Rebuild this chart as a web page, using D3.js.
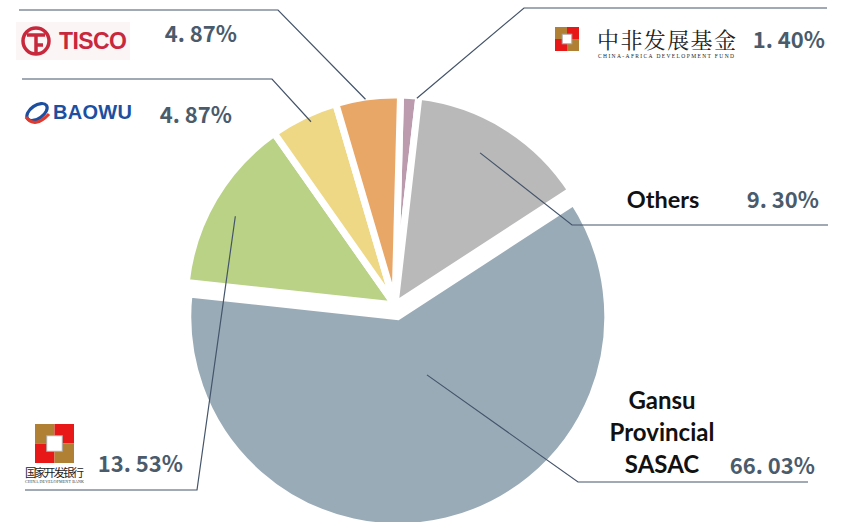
<!DOCTYPE html>
<html>
<head>
<meta charset="utf-8">
<script src="https://cdn.jsdelivr.net/npm/d3@7"></script>
<style>
  body { margin: 0; background: #fff; }
  svg { display: block; }
</style>
</head>
<body>
<div id="chart"></div>
<script>
// slices, clockwise from 12 o'clock
const holders = ["CADF", "Others", "Gansu Provincial SASAC", "CDB", "BAOWU", "TISCO"];
// slice sizes as drawn in the picture (%)
const shares = [1.4, 14.0, 60.9, 13.53, 5.2, 4.97];
// percentages printed on the labels
const pctLabels = ["1. 40%", "9. 30%", "66. 03%", "13. 53%", "4. 87%", "4. 87%"];
const colors = ["#bb9bad", "#b9b9b9", "#9aabb8", "#b9d286", "#eed886", "#e8a667"];

const width = 846, height = 522;
const cx = 395, cy = 305, radius = 210;

const svg = d3.select("#chart")
  .append("svg")
  .attr("width", width)
  .attr("height", height);

const start = 1.5 * Math.PI / 180;
const pie = d3.pie().sort(null).value(d => d).startAngle(start).endAngle(Math.PI * 2 + start);
const arcs = pie(shares);
const arc = d3.arc().innerRadius(0).outerRadius(radius);

// offset of a slice (big one is pulled out)
const explode = [0, 0, 12, 0, 0, 0];
function shift(d, i) {
  const mid = (d.startAngle + d.endAngle) / 2;
  return [Math.sin(mid) * explode[i], -Math.cos(mid) * explode[i]];
}

const g = svg.append("g").attr("transform", `translate(${cx}, ${cy})`);
g.selectAll("path")
  .data(arcs)
  .join("path")
  .attr("d", arc)
  .attr("transform", (d, i) => `translate(${shift(d, i)})`)
  .attr("fill", (d, i) => colors[i])
  .attr("stroke", "#fff")
  .attr("stroke-width", 7)
  .attr("stroke-linejoin", "miter");

// point inside a slice: t = fraction along the angle, r = fraction of radius
function anchor(i, t, r) {
  const d = arcs[i];
  const a = d.startAngle + (d.endAngle - d.startAngle) * t;
  const s = shift(d, i);
  return [cx + s[0] + Math.sin(a) * radius * r, cy + s[1] - Math.cos(a) * radius * r];
}

// leader lines: anchor in slice -> elbow -> end
const leaders = [
  { i: 0, t: 0.9, r: 0.99, elbow: [524, 8], end: [827, 8] },
  { i: 1, t: 0.45, r: 0.83, elbow: [572, 225], end: [828, 225] },
  { i: 2, t: 0.44, r: 0.31, elbow: [578, 482], end: [808, 482] },
  { i: 3, t: 0.47, r: 0.87, elbow: [197, 490], end: [25, 490] },
  { i: 4, t: 0.56, r: 0.96, elbow: [272, 79], end: [22, 79] },
  { i: 5, t: 0.46, r: 0.99, elbow: [278, 10], end: [19, 10] }
];

svg.append("g")
  .selectAll("path")
  .data(leaders)
  .join("path")
  .attr("d", l => d3.line()([anchor(l.i, l.t, l.r), l.elbow, l.end]))
  .attr("fill", "none")
  .attr("stroke", "#44546a")
  .attr("stroke-width", 1.2);

// percentages
const pctPos = [[825, 40], [819, 200], [815, 466], [183, 464], [232, 115], [237, 34]];
svg.append("g")
  .selectAll("text")
  .data(pctLabels)
  .join("text")
  .attr("x", (d, i) => pctPos[i][0])
  .attr("y", (d, i) => pctPos[i][1])
  .attr("dy", "0.35em")
  .attr("text-anchor", "end")
  .attr("font-family", "'Noto Sans CJK SC', 'Noto Sans', sans-serif")
  .attr("font-weight", 700)
  .attr("font-size", 22)
  .attr("fill", "#4a5b6c")
  .text(d => d);

// text labels
const nameFont = "Lato, 'Open Sans', sans-serif";
svg.append("text")
  .attr("x", 663).attr("y", 200).attr("dy", "0.35em")
  .attr("text-anchor", "middle")
  .attr("font-family", nameFont).attr("font-weight", 700).attr("font-size", 23.5)
  .attr("fill", "#111").text("Others");
["Gansu", "Provincial", "SASAC"].forEach((t, k) => {
  svg.append("text")
    .attr("x", 662).attr("y", 401 + k * 32).attr("dy", "0.35em")
    .attr("text-anchor", "middle")
    .attr("font-family", nameFont).attr("font-weight", 700).attr("font-size", 24)
    .attr("fill", "#111").text(t);
});

// ---- logos ----
// TISCO
const tisco = svg.append("g");
tisco.append("rect").attr("x", 16).attr("y", 22).attr("width", 114).attr("height", 38).attr("fill", "#fbf5f6");
tisco.append("circle").attr("cx", 36).attr("cy", 41).attr("r", 13).attr("fill", "none").attr("stroke", "#c8283c").attr("stroke-width", 3.5);
tisco.append("path").attr("d", "M27,35 H45 M36,35 V53 M36,45 H43").attr("stroke", "#c8283c").attr("stroke-width", 3.5).attr("fill", "none");
tisco.append("text").attr("x", 59).attr("y", 41).attr("dy", "0.36em")
  .attr("font-family", "'Liberation Sans', Arial, sans-serif").attr("font-weight", 700).attr("font-size", 23)
  .attr("fill", "#c8283c").attr("textLength", 68).text("TISCO");

// BAOWU
const baowu = svg.append("g");
baowu.append("ellipse").attr("cx", 37).attr("cy", 112).attr("rx", 11.5).attr("ry", 6.5)
  .attr("transform", "rotate(-35 37 112)").attr("fill", "none").attr("stroke", "#1d4fa0").attr("stroke-width", 3.2);
baowu.append("path").attr("d", "M26,117 Q35,129 49,114").attr("fill", "none").attr("stroke", "#e03a2e").attr("stroke-width", 3.2);
baowu.append("text").attr("x", 53).attr("y", 112).attr("dy", "0.36em")
  .attr("font-family", "'Liberation Sans', Arial, sans-serif").attr("font-weight", 700).attr("font-size", 20)
  .attr("fill", "#1d4fa0").attr("textLength", 79).text("BAOWU");

// square logo used by both development funds
function squareLogo(x, y, s) {
  const lg = svg.append("g").attr("transform", `translate(${x}, ${y})`);
  const h = s / 2;
  lg.append("rect").attr("width", h).attr("height", h).attr("fill", "#b08035");
  lg.append("rect").attr("x", h).attr("width", h).attr("height", h).attr("fill", "#e81818");
  lg.append("rect").attr("y", h).attr("width", h).attr("height", h).attr("fill", "#e81818");
  lg.append("rect").attr("x", h).attr("y", h).attr("width", h).attr("height", h).attr("fill", "#b08035");
  lg.append("rect").attr("x", s * 0.3).attr("y", s * 0.3).attr("width", s * 0.4).attr("height", s * 0.4)
    .attr("fill", "#fff").attr("stroke", "#aaa").attr("stroke-width", 1);
}

// China-Africa Development Fund
squareLogo(555, 27, 24);
svg.append("text").attr("x", 597).attr("y", 40).attr("dy", "0.36em")
  .attr("font-family", "'Noto Serif CJK SC', 'Noto Sans CJK SC', serif").attr("font-size", 22)
  .attr("fill", "#222").attr("textLength", 139).text("中非发展基金");
svg.append("text").attr("x", 598).attr("y", 58)
  .attr("font-family", "'Liberation Serif', serif").attr("font-size", 5.5)
  .attr("fill", "#222").attr("textLength", 136).text("CHINA-AFRICA DEVELOPMENT FUND");

// China Development Bank
squareLogo(35, 424, 39);
svg.append("text").attr("x", 25).attr("y", 473).attr("dy", "0.36em")
  .attr("font-family", "'Noto Sans CJK SC', sans-serif").attr("font-size", 11.5)
  .attr("fill", "#222").attr("textLength", 59).text("国家开发银行");
svg.append("text").attr("x", 25).attr("y", 483)
  .attr("font-family", "'Liberation Serif', serif").attr("font-size", 4)
  .attr("fill", "#333").attr("textLength", 59).text("CHINA DEVELOPMENT BANK");
</script>
</body>
</html>
